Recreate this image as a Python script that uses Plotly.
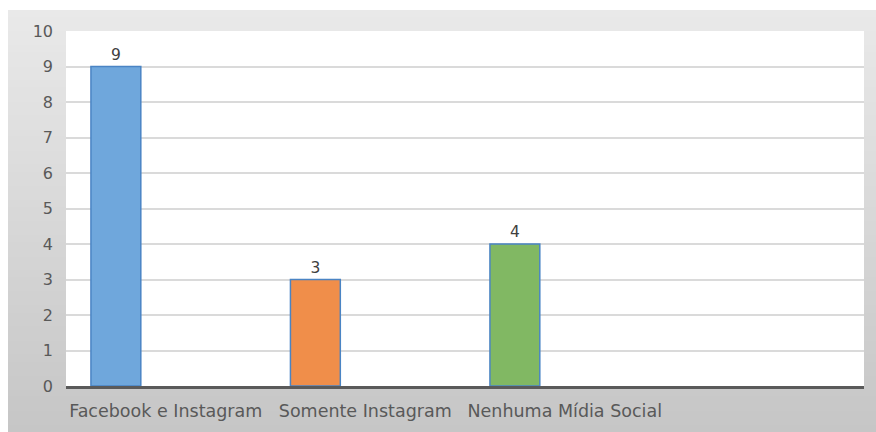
import plotly.graph_objects as go

categories = ["Facebook e Instagram", "Somente Instagram", "Nenhuma Mídia Social", ""]
values = [9, 3, 4]
bar_colors = ["#6FA7DC", "#F08E4A", "#81B863"]
y_ticks = list(range(0, 11))

W, H = 876, 432
L, R, T, B = 66, 12, 31, 46
pw, ph = W - L - R, H - T - B
FONT = "DejaVu Sans"

def px2x(p):
    return (p - L) / pw

def py2y(p):
    return 1 - (p - T) / ph

fig = go.Figure()
slots = list(range(len(categories)))
fig.add_trace(go.Bar(
    x=slots[:len(values)], y=values,
    width=0.25, offset=0.125,
    marker=dict(color=bar_colors, line=dict(color="#4A84C4", width=1.5)),
    text=[str(v) for v in values], textposition="outside",
    textfont=dict(size=15.5, color="#404040", family=FONT),
    cliponaxis=False, hoverinfo="skip",
))

shapes = []
n = 60
top, bot = 10, H
c0, c1 = (0xE9, 0xE9, 0xE9), (0xC6, 0xC6, 0xC6)
for i in range(n):
    f = i / (n - 1)
    c = tuple(int(round(a + (b - a) * f)) for a, b in zip(c0, c1))
    y0p = top + (bot - top) * i / n
    y1p = top + (bot - top) * (i + 1) / n + 1
    shapes.append(dict(type="rect", xref="paper", yref="paper",
                       x0=px2x(8), x1=px2x(W + 2), y0=py2y(y1p), y1=py2y(y0p),
                       fillcolor="rgb(%d,%d,%d)" % c, line=dict(width=0), layer="below"))
shapes.append(dict(type="rect", xref="paper", yref="paper", x0=0, x1=1, y0=0, y1=1,
                   fillcolor="white", line=dict(width=0), layer="below"))

fig.update_layout(
    width=W, height=H,
    margin=dict(l=L, r=R, t=T, b=B),
    paper_bgcolor="white", plot_bgcolor="rgba(0,0,0,0)",
    showlegend=False, shapes=shapes,
    font=dict(family=FONT, color="#595959", size=15),
    xaxis=dict(range=[0, len(categories)], tickvals=[s + 0.5 for s in slots],
               ticktext=categories, showgrid=False, zeroline=False,
               showline=True, linecolor="#5A5A5A", linewidth=2.5,
               ticks="", ticklabelstandoff=7, tickfont=dict(size=17.5, color="#595959")),
    yaxis=dict(range=[0, 10], tickvals=y_ticks, showgrid=True, gridcolor="#DADADA",
               gridwidth=1.5, zeroline=False, showline=False, ticks="",
               ticklabelstandoff=12, tickfont=dict(size=16, color="#595959")),
)

fig.write_html("out.html")
